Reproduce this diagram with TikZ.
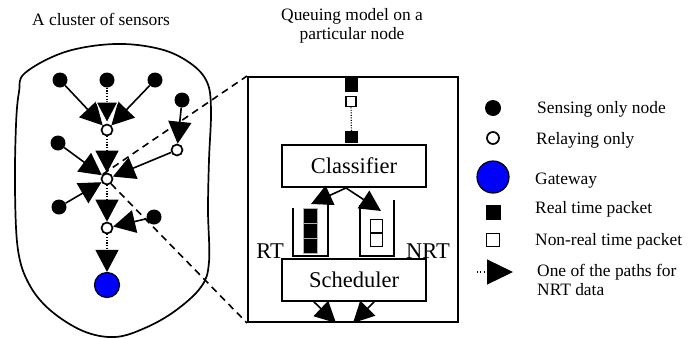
\documentclass[tikz,border=0pt]{standalone}
\usepackage{fontspec}
\setmainfont{Liberation Serif}
\usetikzlibrary{arrows.meta,calc}
\begin{document}
\begin{tikzpicture}[x=1bp,y=-1bp,
  small/.style={font=\fontsize{17.4bp}{19bp}\selectfont, inner sep=0},
  big/.style={font=\fontsize{22.5bp}{24bp}\selectfont, inner sep=0},
  sense/.style={circle, fill=black, inner sep=0, minimum size=15bp},
  relay/.style={circle, fill=white, draw=black, line width=1.7bp, inner sep=0, minimum size=11bp},
  gate/.style={circle, fill=blue, draw=black, line width=1.2bp, inner sep=0, minimum size=25bp},
  link/.style={line width=1.6bp, -{Triangle[length=22bp,width=23bp]}},
  nrtlink/.style={link, line width=1.3bp, dash pattern=on 1.1bp off 1.6bp},
  qarrow/.style={line width=1.6bp, -{Triangle[length=21bp,width=21bp]}},
  procbox/.style={draw, line width=1.9bp, fill=white, minimum width=144bp, minimum height=42bp, inner sep=0, big},
  rtcell/.style={fill=black, draw=white!70!black, line width=0.6bp, minimum width=14bp, minimum height=15bp, inner sep=0},
  nrtcell/.style={fill=white, draw=black, line width=1.8bp, minimum width=12bp, minimum height=13bp, inner sep=0},
  wall/.style={line width=1.9bp},
  zoomline/.style={line width=1.6bp, dash pattern=on 7bp off 5bp}]
\useasboundingbox (0,0) rectangle (697,338);

% ---------- sensor cluster ----------
\node[small, anchor=base west] (ctitle) at (32,25) {A cluster of sensors};
\draw[line width=1.7bp] plot[smooth cycle, tension=0.6] coordinates {
  (25,73) (65,52) (115,44) (160,49) (190,63) (207,82) (211,110) (209,160)
  (208,210) (209,262) (201,287) (175,311) (145,328) (115,337) (83,331)
  (50,310) (29,284) (18,250) (15,190) (16,125) (19,92)};

\node[sense] (s1) at (60,80) {};
\node[sense] (s2) at (107,80) {};
\node[sense] (s3) at (155,80) {};
\node[sense] (s4) at (182,100) {};
\node[relay] (r1) at (107,130) {};
\node[relay] (r2) at (177,150) {};
\node[sense] (s5) at (58,143) {};
\node[relay] (rc) at (107,179) {};
\node[sense] (s6) at (59,207) {};
\node[sense] (s7) at (154,217) {};
\node[relay] (r3) at (107,228) {};
\node[gate]  (gw) at (107,285) {};

\draw[link] (s1) -- (r1);
\draw[link] (s3) -- (r1);
\draw[nrtlink, -{Triangle[length=22bp,width=23bp,fill=black,color=white,line width=0.9bp]}] (s2) -- (r1);
\draw[link] (s4) -- (r2);
\draw[link] (s5) -- (rc);
\draw[link] (s6) -- (rc);
\draw[link] (r2) -- (rc);
\draw[nrtlink] (r1) -- (rc);
\draw[link] (s7) -- (r3);
\draw[nrtlink] (rc) -- (r3);
\draw[nrtlink] (r3) -- (gw);

% ---------- queuing model ----------
\node[small, align=center, anchor=base] (qtitle) at (352,39.5) {Queuing model on a\\particular node};
\node[draw, line width=2bp, minimum width=210bp, minimum height=245bp, inner sep=0] (qbox) at (353,199.5) {};

\node[fill=black, minimum width=13bp, minimum height=14bp, inner sep=0] (pk1) at (351,85) {};
\node[draw, fill=white, line width=1.7bp, minimum width=10bp, minimum height=10bp, inner sep=0] (pk2) at (351,101.5) {};
\node[fill=black, minimum width=13bp, minimum height=12bp, inner sep=0] (pk3) at (351.5,137) {};
\draw[line width=1.2bp, dash pattern=on 1.1bp off 1.4bp] (pk2) -- (pk3);

\node[procbox] (cls) at (354,166) {Classifier};
\node[procbox] (sch) at (354,280) {Scheduler};

% real-time queue
\draw[wall] (293,208) -- (293,256) -- (328,256) -- (328,203);
\node[rtcell] (rq1) at (310,245.5) {};
\node[rtcell] (rq2) at (310,230.5) {};
\node[rtcell] (rq3) at (310,215.5) {};
% non-real-time queue
\draw[wall] (360,205) -- (360,256) -- (394,256) -- (394,200);
\node[nrtcell] (nq1) at (376.5,226) {};
\node[nrtcell] (nq2) at (376.5,240) {};

\node[big, anchor=base east] (rtlab) at (284,258.5) {RT};
\node[big, anchor=base west] (nrtlab) at (406,258.5) {NRT};

\coordinate (split) at ($(cls.south)+(-8,0)$);
\coordinate (rtin) at (311,204);
\coordinate (nrtin) at (381,211);
\draw[qarrow] (split) -- (rtin);
\draw[qarrow] (split) -- (nrtin);

\coordinate (so1) at ($(sch.south)+(-40,0)$);
\coordinate (so2) at ($(sch.south)+(20,0)$);
\coordinate (out1) at ($(qbox.south)+(-17,0)$);
\coordinate (out2) at ($(qbox.south)+(0,0)$);
\draw[qarrow] (so1) -- (out1);
\draw[qarrow] (so2) -- (out2);

% zoom lines from the relay to the node model
\draw[zoomline] (rc.130) -- (qbox.north west);
\draw[zoomline] (rc.-50) -- (qbox.south west);

% ---------- legend ----------
\node[sense, minimum size=16bp] (lg1) at (493,108) {};
\node[relay, minimum size=12bp] (lg2) at (493,138) {};
\node[gate, minimum size=32bp] (lg3) at (493,177) {};
\node[fill=black, minimum size=15bp, inner sep=0] (lg4) at (493,212) {};
\node[draw, fill=white, line width=1.7bp, minimum size=13bp, inner sep=0] (lg5) at (493,240) {};
\coordinate (lga) at (477,272);
\coordinate (lgb) at (513,272);
\draw[line width=1.2bp, dash pattern=on 1.1bp off 2.2bp, -{Triangle[length=26bp,width=25bp]}] (lga) -- (lgb);

\node[small, anchor=base west] (t1) at (537,113) {Sensing only node};
\node[small, anchor=base west] (t2) at (536,144.5) {Relaying only};
\node[small, anchor=base west] (t3) at (535,184) {Gateway};
\node[small, anchor=base west] (t4) at (535,213) {Real time packet};
\node[small, anchor=base west] (t5) at (535,245) {Non-real time packet};
\node[small, anchor=base west] (t6) at (537,276.5) {One of the paths for};
\node[small, anchor=base west] (t7) at (537,295) {NRT data};
\end{tikzpicture}
\end{document}
